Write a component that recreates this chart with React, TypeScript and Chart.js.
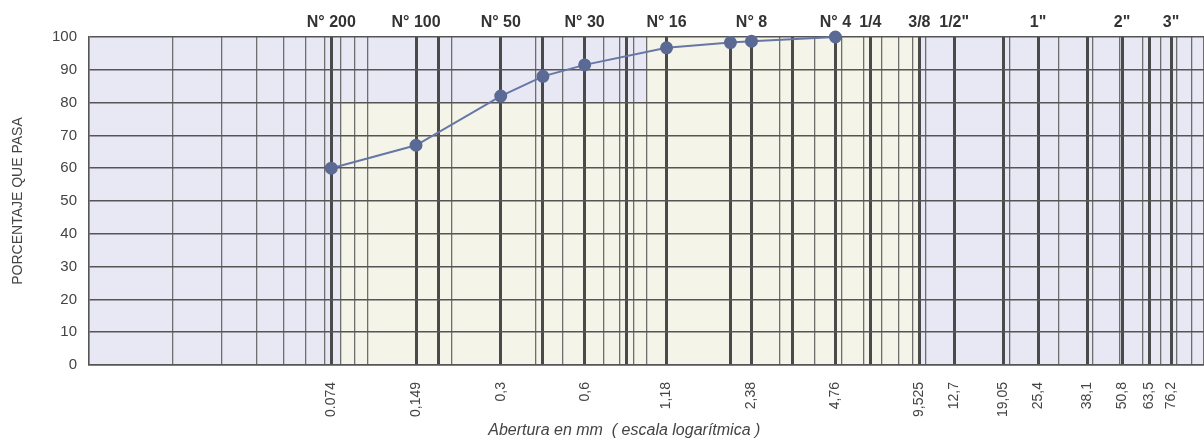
import React, { useEffect, useRef } from 'react';
import { Chart, registerables } from 'chart.js';

Chart.register(...registerables);

// Curva granulométrica: abertura (mm) vs porcentaje que pasa
const aberturaMm = [0.074, 0.149, 0.3, 0.425, 0.6, 1.18, 2.0, 2.38, 4.76];
const porcentajePasa = [60, 67, 82, 88, 91.5, 96.7, 98.3, 98.7, 100];

// Etiquetas inferiores (abertura en mm)
const tamicesInf = [0.074, 0.149, 0.3, 0.6, 1.18, 2.38, 4.76, 9.525, 12.7, 19.05, 25.4, 38.1, 50.8, 63.5, 76.2];
const etiquetasInf = ['0.074', '0,149', '0,3', '0,6', '1,18', '2,38', '4,76', '9,525', '12,7', '19,05', '25,4', '38,1', '50,8', '63,5', '76,2'];

// Etiquetas superiores (designación del tamiz)
const tamicesSup = [0.074, 0.149, 0.3, 0.6, 1.18, 2.38, 4.76, 6.35, 9.525, 12.7, 25.4, 50.8, 76.2];
const etiquetasSup = ['N° 200', 'N° 100', 'N° 50', 'N° 30', 'N° 16', 'N° 8', 'N° 4', '1/4', '3/8', '1/2"', '1"', '2"', '3"'];

// Líneas gruesas de tamices
const lineasTamiz = [0.074, 0.149, 0.18, 0.3, 0.425, 0.6, 0.85, 1.18, 2.0, 2.38, 3.35, 4.76, 6.35, 9.525, 12.7, 19.05, 25.4, 38.1, 50.8, 63.5, 76.2];

// Rejilla logarítmica
const decadas = [0.01, 0.1, 1, 10];
const multiplos = [1, 2, 3, 4, 5, 6, 7, 8, 9];

const Y_MIN = 0;
const Y_MAX = 100;
const Y_STEP = 10;

const near = (a: number, b: number) => Math.abs(Math.log10(a) - Math.log10(b)) < 1e-4;

export default function App() {
  const ref = useRef<HTMLCanvasElement | null>(null);

  useEffect(() => {
    document.body.style.margin = '0';
    const canvas = ref.current;
    if (!canvas) return;

    const gridValues: number[] = [];
    const addGrid = (v: number) => {
      if (!gridValues.some((g) => near(g, v))) gridValues.push(v);
    };
    decadas.forEach((d) => multiplos.forEach((m) => addGrid(+(d * m).toPrecision(6))));
    addGrid(100);
    lineasTamiz.forEach(addGrid);
    gridValues.sort((a, b) => a - b);

    const isTamiz = (v: number) => lineasTamiz.some((t) => near(t, v));

    const fondo = {
      id: 'fondo',
      beforeDraw(chart: any) {
        const { ctx, chartArea: a, scales } = chart;
        const xs = scales.x;
        const ys = scales.y;
        ctx.save();
        ctx.fillStyle = '#e8e8f5';
        ctx.fillRect(a.left, a.top, a.right - a.left, a.bottom - a.top);
        ctx.fillStyle = '#f5f4e9';
        const x0 = xs.getPixelForValue(0.08);
        const x1 = xs.getPixelForValue(9.5);
        const yTop = ys.getPixelForValue(80);
        ctx.fillRect(x0, yTop, x1 - x0, a.bottom - yTop);
        const x2 = xs.getPixelForValue(1.0);
        ctx.fillRect(x2, a.top, x1 - x2, yTop - a.top);
        ctx.restore();
      },
    };

    const fixPad = (s: any) => {
      s.paddingLeft = 0;
      s.paddingRight = 0;
    };

    const chart = new Chart(canvas, {
      type: 'scatter',
      data: {
        datasets: [
          {
            data: aberturaMm.map((x, i) => ({ x, y: porcentajePasa[i] })),
            showLine: true,
            borderColor: '#6677a6',
            borderWidth: 2,
            backgroundColor: '#5a6a94',
            pointBackgroundColor: '#5a6a94',
            pointBorderColor: '#5a6a94',
            pointRadius: 5.5,
            clip: false as any,
          },
        ],
      },
      options: {
        responsive: false,
        animation: false,
        layout: { padding: 0, autoPadding: false },
        plugins: { legend: { display: false }, tooltip: { enabled: false } },
        scales: {
          x: {
            type: 'logarithmic',
            position: 'bottom',
            min: 0.01,
            max: 100,
            afterBuildTicks: (s: any) => {
              s.ticks = gridValues.map((v) => ({ value: v }));
            },
            afterFit: (s: any) => {
              s.height = 78;
              fixPad(s);
            },
            grid: {
              drawTicks: false,
              color: (c: any) => (c.tick && isTamiz(c.tick.value) ? '#4a4a4a' : '#6e6e6e'),
              lineWidth: (c: any) => (c.tick && isTamiz(c.tick.value) ? 3 : 1.3),
            },
            border: { color: '#555', width: 1.5 },
            ticks: {
              autoSkip: false,
              minRotation: 90,
              maxRotation: 90,
              padding: 17,
              color: '#444',
              font: { family: 'Liberation Sans, Arial, sans-serif', size: 14 },
              callback: (val: any) => {
                const i = tamicesInf.findIndex((v) => near(v, Number(val)));
                return i >= 0 ? etiquetasInf[i] : '';
              },
            },
            title: {
              display: true,
              text: 'Abertura en mm  ( escala logarítmica )          ',
              color: '#444',
              font: { family: 'Liberation Sans, Arial, sans-serif', size: 16, style: 'italic' },
              padding: { top: 0, bottom: 3 },
            },
          },
          x2: {
            type: 'logarithmic',
            position: 'top',
            min: 0.01,
            max: 100,
            afterBuildTicks: (s: any) => {
              s.ticks = tamicesSup.map((v) => ({ value: v }));
            },
            afterFit: (s: any) => {
              s.height = 37;
              fixPad(s);
            },
            grid: { display: false, drawTicks: false },
            border: { display: false },
            ticks: {
              autoSkip: false,
              maxRotation: 0,
              minRotation: 0,
              padding: 5,
              color: '#333',
              font: { family: 'Liberation Sans, Arial, sans-serif', size: 16, weight: 'bold' },
              callback: (val: any) => {
                const i = tamicesSup.findIndex((v) => near(v, Number(val)));
                return i >= 0 ? etiquetasSup[i] : '';
              },
            },
          },
          y: {
            min: Y_MIN,
            max: Y_MAX,
            afterFit: (s: any) => {
              s.width = 89;
            },
            grid: { drawTicks: false, color: '#555', lineWidth: 1.5 },
            border: { color: '#555', width: 1.5 },
            ticks: {
              stepSize: Y_STEP,
              padding: 12,
              color: '#444',
              font: { family: 'Liberation Sans, Arial, sans-serif', size: 15 },
            },
            title: {
              display: true,
              text: 'PORCENTAJE QUE PASA',
              color: '#444',
              font: { family: 'Liberation Sans, Arial, sans-serif', size: 14 },
              padding: { top: 10, bottom: 0 },
            },
          },
        },
      } as any,
      plugins: [fondo],
    });

    return () => chart.destroy();
  }, []);

  return (
    <div style={{ width: 1204, height: 443, background: '#fff' }}>
      <canvas ref={ref} width={1204} height={443} style={{ display: 'block', width: 1204, height: 443 }} />
    </div>
  );
}
